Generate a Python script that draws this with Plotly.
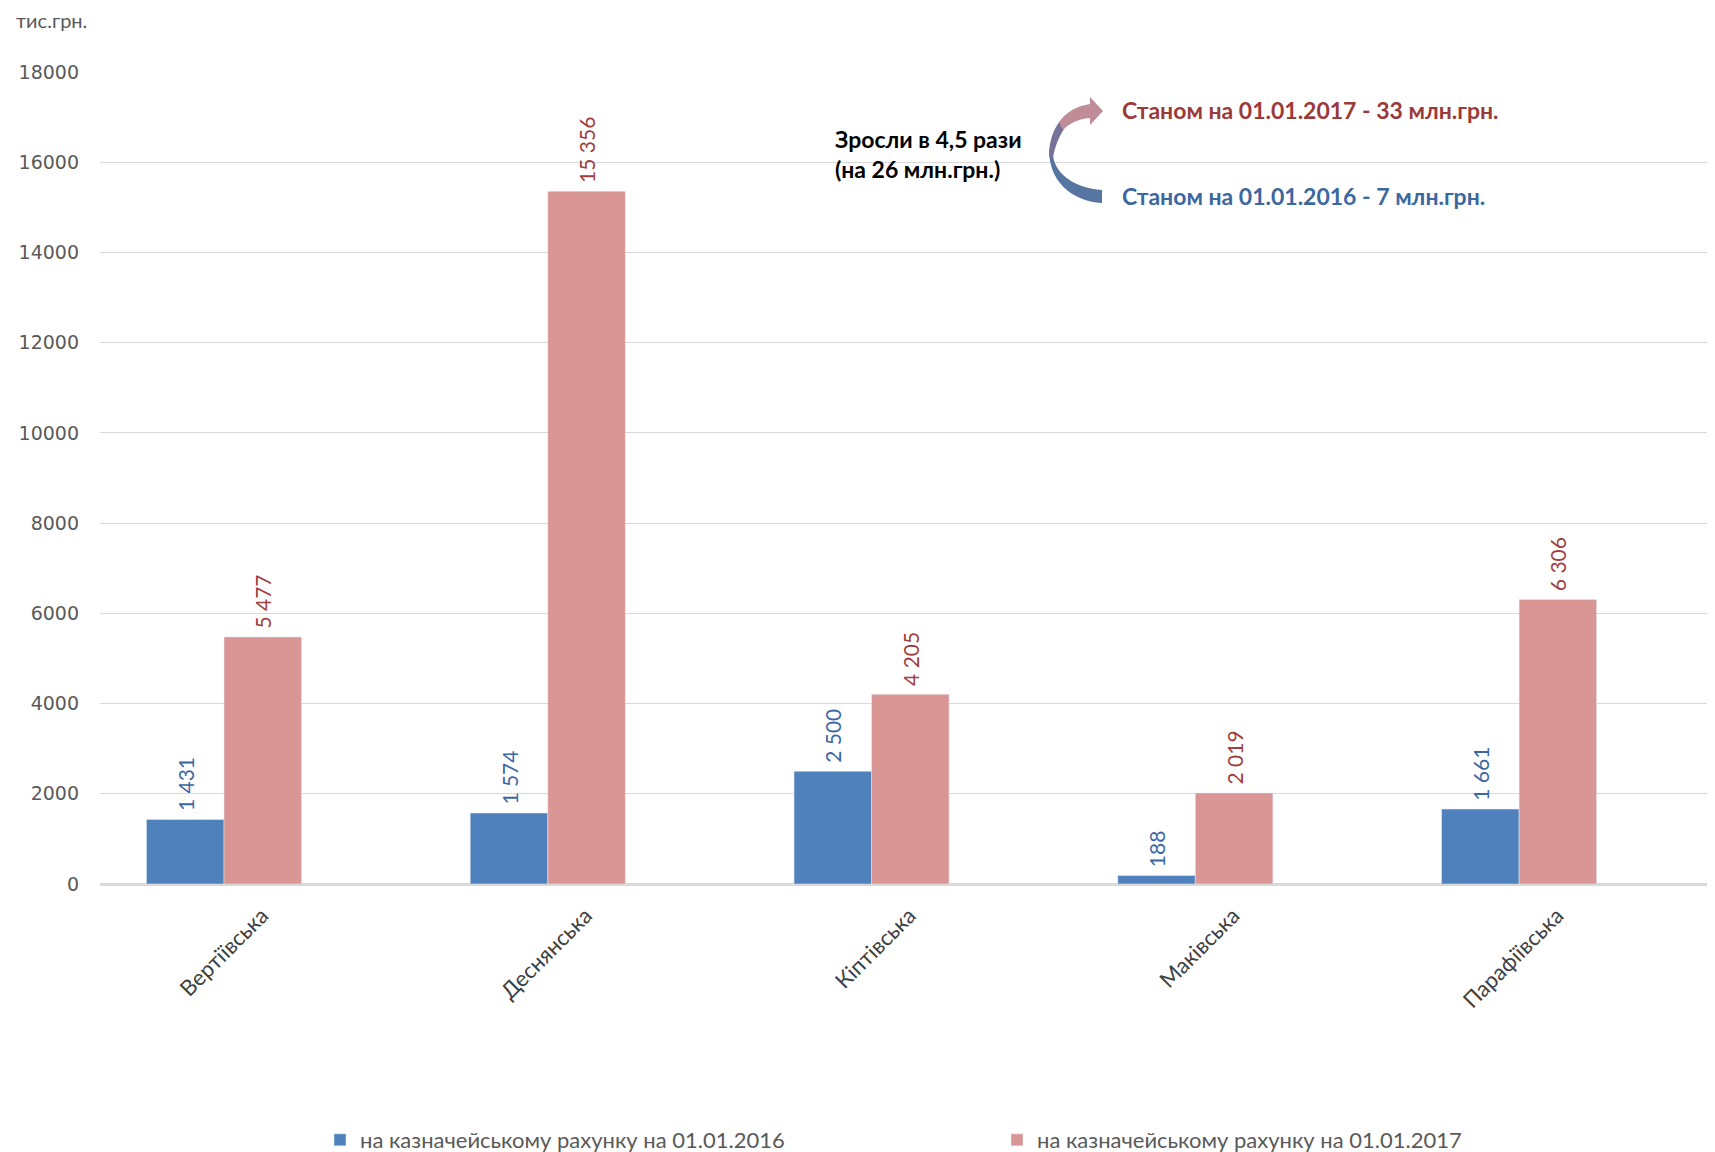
import plotly.graph_objects as go

# --- DATA ---
communities = ["Вертіївська", "Деснянська", "Кіптівська", "Маківська", "Парафіївська"]
balance_2016 = [1431, 1574, 2500, 188, 1661]
balance_2017 = [5477, 15356, 4205, 2019, 6306]
series_names = ["на казначейському рахунку на 01.01.2016", "на казначейському рахунку на 01.01.2017"]
y_ticks = [0, 2000, 4000, 6000, 8000, 10000, 12000, 14000, 16000, 18000]

# --- CONSTANTS ---
# the page body has an 8px margin, so the figure is 8px smaller than the window
OFF = 8
W, H = 1715 - OFF, 1152 - OFF
M_L, M_R, M_T, M_B = 100 - OFF, 0, 72 - OFF, 268
SANS = "Lato, 'Noto Sans', sans-serif"
BLUE, PINK = "#4F81BD", "#D99694"
BLUE_TXT, RED_TXT = "#3B68A3", "#A0403E"
PAD = "\u00a0"  # a little room between bar top and its label


def px(x, y):
    """Window pixel position -> paper coordinates."""
    x, y = x - OFF, y - OFF
    return (x - M_L) / (W - M_L - M_R), (H - M_B - y) / (H - M_T - M_B)


def fmt(v):
    return PAD + f"{v:,}".replace(",", " ")


def path(points):
    # points: list of (cmd, [(x, y), ...]) in window pixels
    # plotly wants every M/L point with its own letter, C takes 3 points
    def xy(p):
        a, b = px(*p)
        return f"{a:.5f},{b:.5f}"

    parts = []
    for cmd, pts in points:
        if cmd == "C":
            parts.append("C " + " ".join(xy(p) for p in pts))
        else:
            for p in pts:
                parts.append(f"{cmd} {xy(p)}")
                cmd = "L"
    return " ".join(parts) + " Z"


fig = go.Figure()
fig.add_trace(go.Bar(
    x=communities, y=balance_2016, name=series_names[0], marker_color=BLUE,
    text=[fmt(v) for v in balance_2016], textposition="outside", textangle=-90,
    textfont=dict(family=SANS, size=21, color=BLUE_TXT), cliponaxis=False,
))
fig.add_trace(go.Bar(
    x=communities, y=balance_2017, name=series_names[1], marker_color=PINK,
    text=[fmt(v) for v in balance_2017], textposition="outside", textangle=-90,
    textfont=dict(family=SANS, size=21, color=RED_TXT), cliponaxis=False,
))

# curved arrow, split in pieces to fake the colour gradient
arrow_pieces = [
    ("#5676A1", [("M", [(1049, 150)]), ("C", [(1049, 180), (1070, 201), (1102, 203)]),
                 ("L", [(1102, 190)]), ("C", [(1075, 188), (1056, 175), (1053, 156)])]),
    ("#77729B", [("M", [(1049, 156)]), ("C", [(1049, 142), (1053, 130), (1060, 121)]),
                 ("L", [(1064, 129)]), ("C", [(1059, 137), (1055, 146), (1053, 158)])]),
    ("#BF8C97", [("M", [(1059, 122)]), ("C", [(1067, 111), (1078, 106), (1090, 104)]),
                 ("L", [(1090, 97), (1103, 111), (1090, 125), (1090, 118)]),
                 ("C", [(1078, 119), (1070, 123), (1063, 130)])]),
]
for color, pts in arrow_pieces:
    fig.add_shape(type="path", xref="paper", yref="paper", path=path(pts),
                  fillcolor=color, line=dict(width=0), layer="above")

ann_font = dict(family=SANS, size=23)
fig.add_annotation(x=px(833, 154)[0], y=px(833, 154)[1], xref="paper", yref="paper",
                   xanchor="left", yanchor="middle", align="left", showarrow=False,
                   text="<b>Зросли в 4,5 рази<br>(на 26 млн.грн.)</b>",
                   font=dict(color="#000000", **ann_font))
fig.add_annotation(x=px(1120, 110)[0], y=px(1120, 110)[1], xref="paper", yref="paper",
                   xanchor="left", yanchor="middle", showarrow=False,
                   text="<b>Станом на 01.01.2017 - 33 млн.грн.</b>",
                   font=dict(color="#9B3A3A", **ann_font))
fig.add_annotation(x=px(1120, 196)[0], y=px(1120, 196)[1], xref="paper", yref="paper",
                   xanchor="left", yanchor="middle", showarrow=False,
                   text="<b>Станом на 01.01.2016 - 7 млн.грн.</b>",
                   font=dict(color="#3C679F", **ann_font))
fig.add_annotation(x=px(14, 20)[0], y=px(14, 20)[1], xref="paper", yref="paper",
                   xanchor="left", yanchor="middle", showarrow=False,
                   text="тис.грн.", font=dict(family=SANS, size=20, color="#595959"))

fig.update_layout(
    width=W, height=H,
    margin=dict(l=M_L, r=M_R, t=M_T, b=M_B, autoexpand=False),
    plot_bgcolor="white", paper_bgcolor="white",
    barmode="group", bargap=0.521, bargroupgap=0,
    showlegend=True,
    legend=dict(orientation="h", x=px(320, 0)[0], y=px(0, 1140)[1],
                xanchor="left", yanchor="middle",
                entrywidth=632, entrywidthmode="pixels",
                font=dict(family=SANS, size=22, color="#595959"),
                itemwidth=30, traceorder="normal"),
    font=dict(family=SANS),
)
fig.update_yaxes(range=[0, 18000], tickvals=y_ticks, tickformat="d",
                 showgrid=True, gridcolor="#D9D9D9", gridwidth=1,
                 zeroline=True, zerolinecolor="#D9D9D9", zerolinewidth=2,
                 tickfont=dict(family="DejaVu Sans", size=19, color="#595959"),
                 ticks="", ticklen=0, ticklabelstandoff=20)
fig.update_xaxes(range=[-0.383, 4.605], tickangle=-45,
                 showline=True, linecolor="#D9D9D9", linewidth=2,
                 tickfont=dict(family=SANS, size=22, color="#404040"),
                 ticks="", ticklabelstandoff=8, ticklabelshift=38)

fig.write_html("out.html")
